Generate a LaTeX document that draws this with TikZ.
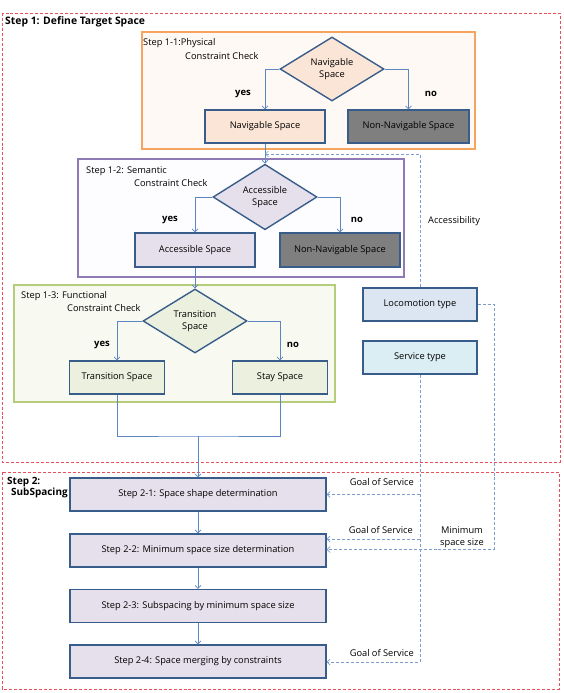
\documentclass[tikz,border=0pt]{standalone}
\usepackage{fontspec}
\setmainfont{Open Sans}
\usetikzlibrary{shapes.geometric,arrows.meta}
\definecolor{dkblue}{HTML}{385D8A}
\definecolor{lnblue}{HTML}{5B86C0}
\definecolor{dsblue}{HTML}{7C9CCB}
\definecolor{orgB}{HTML}{F5A55F}
\definecolor{orgFill}{HTML}{FEF9F4}
\definecolor{peach}{HTML}{FBE5D6}
\definecolor{nongray}{HTML}{7F7F7F}
\definecolor{purB}{HTML}{8E7AB5}
\definecolor{purFill}{HTML}{FDFCFE}
\definecolor{lav}{HTML}{E6E0EC}
\definecolor{grnB}{HTML}{B5CC7A}
\definecolor{grnFill}{HTML}{F8FAF2}
\definecolor{grnBox}{HTML}{EBF1DE}
\definecolor{loco}{HTML}{DCE6F2}
\definecolor{serv}{HTML}{DBEEF4}
\definecolor{redd}{HTML}{E8505B}
\tikzset{
  x=1bp, y=-1bp,
  every node/.style={font=\fontsize{9.3}{12}\selectfont, inner sep=0pt},
  reddash/.style={draw=redd, line width=0.8pt, dash pattern=on 3pt off 2pt},
  grp/.style={line width=1.2pt},
  pbox/.style={draw=dkblue, line width=1.4pt, rectangle, align=center},
  dia/.style={draw=dkblue, line width=1.4pt, diamond, align=center, minimum width=104bp, minimum height=64bp},
  ln/.style={draw=lnblue, line width=0.7pt},
  arr/.style={ln, -{Straight Barb[length=3pt,width=6pt]}},
  darr/.style={draw=dsblue, line width=0.7pt, dash pattern=on 3pt off 2pt, -{Straight Barb[length=3pt,width=6pt]}},
  bld/.style={font=\fontsize{9.5}{12.5}\selectfont\bfseries},
  ttl/.style={font=\fontsize{10.4}{12.5}\selectfont\bfseries},
}
\begin{document}
\begin{tikzpicture}
\useasboundingbox (0,0) rectangle (564,693);
% outer dashed regions
\draw[reddash] (2,13) rectangle (560,462);
\draw[reddash] (2,472) rectangle (559,689);
% group boxes
\draw[grp, draw=orgB, fill=orgFill] (142,32) rectangle (475,149);
\draw[grp, draw=purB, fill=purFill] (78,159) rectangle (404,277);
\draw[grp, draw=grnB, fill=grnFill] (14,285) rectangle (335,402);
% titles
\node[ttl, anchor=west] (t1) at (5,22) {Step 1: Define Target Space};
\node[ttl, font=\fontsize{10}{12.5}\selectfont\bfseries, anchor=north west, align=left] (t2) at (7,477) {Step 2:\\[-1pt]\hspace*{4bp}SubSpacing};
\node[anchor=west] (t11a) at (143,43) {Step 1-1:Physical};
\node[anchor=west] (t11b) at (185,56) {Constraint Check};
\node[anchor=west] (t12a) at (86,171) {Step 1-2: Semantic};
\node[anchor=west] (t12b) at (134,183) {Constraint Check};
\node[anchor=west] (t13a) at (21,296) {Step 1-3: Functional};
\node[anchor=west] (t13b) at (67,308) {Constraint Check};
% step 1-1
\node[dia, fill=peach] (nd) at (332,69) {Navigable\\Space};
\node[pbox, fill=peach, minimum width=120bp, minimum height=33bp] (nb) at (265,126.5) {Navigable Space};
\node[pbox, fill=nongray, minimum width=121bp, minimum height=33bp] (nnb) at (408.5,126.5) {Non-Navigable Space};
\node[bld] (y1) at (243,94) {yes};
\node[bld] (n1) at (431,94) {no};
% step 1-2
\node[dia, fill=lav] (ad) at (265,197) {Accessible\\Space};
\node[pbox, fill=lav, minimum width=120bp, minimum height=34bp] (ab) at (195,250) {Accessible Space};
\node[pbox, fill=nongray, minimum width=120bp, minimum height=34bp] (nnb2) at (340,250) {Non-Navigable Space};
\node[bld] (y2) at (170,220) {yes};
\node[bld] (n2) at (357,220) {no};
% step 1-3
\node[dia, fill=grnBox] (td) at (195,321) {Transition\\Space};
\node[pbox, fill=grnBox, minimum width=95bp, minimum height=33bp] (tb) at (117,377.5) {Transition Space};
\node[pbox, fill=grnBox, minimum width=95bp, minimum height=33bp] (sb) at (280,377.5) {Stay Space};
\node[bld] (y3) at (102,345) {yes};
\node[bld] (n3) at (293,345) {no};
% side boxes
\node[pbox, fill=loco, minimum width=114bp, minimum height=33bp] (loco) at (420,304.5) {Locomotion type};
\node[pbox, fill=serv, minimum width=114bp, minimum height=33bp] (serv) at (420,357.5) {Service type};
% step 2
\node[pbox, fill=lav, minimum width=256bp, minimum height=33bp] (s21) at (198,494.5) {Step 2-1: Space shape determination};
\node[pbox, fill=lav, minimum width=256bp, minimum height=33bp] (s22) at (198,550.5) {Step 2-2: Minimum space size determination};
\node[pbox, fill=lav, minimum width=256bp, minimum height=33bp] (s23) at (198,606) {Step 2-3: Subspacing by minimum space size};
\node[pbox, fill=lav, minimum width=256bp, minimum height=33bp] (s24) at (198,661.5) {Step 2-4: Space merging by constraints};
% labels on dashed lines
\node[anchor=west] (acc) at (428,221) {Accessibility};
\node[align=center] (msz) at (462,537) {Minimum\\space size};
\node[anchor=east] (g1l) at (414,482) {Goal of Service};
\node[anchor=east] (g2l) at (413,530) {Goal of Service};
\node[anchor=east] (g3l) at (414,653) {Goal of Service};
% solid connectors
\draw[arr] (nd.west) -| (nb.north);
\draw[arr] (nd.east) -| (nnb.north);
\draw[arr] (nb.south) -- (ad.north);
\draw[arr] (ad.west) -| (ab.north);
\draw[arr] (ad.east) -| (nnb2.north);
\draw[arr] (ab.south) -- (td.north);
\draw[arr] (td.west) -| (tb.north);
\draw[arr] (td.east) -| (sb.north);
\coordinate (mj) at (198,436);
\draw[ln] (tb.south) |- (mj) -| (sb.south);
\draw[arr] (mj) -- (s21.north);
\draw[arr] (s21.south) -- (s22.north);
\draw[arr] (s22.south) -- (s23.north);
\draw[arr] (s23.south) -- (s24.north);
% dashed connectors
\coordinate (ac) at (420,154);
\draw[darr] (loco.north) -- (ac) -- (nb.south |- ac);
\coordinate (ms) at (494,549.5);
\draw[darr] (loco.east) -| (ms) -- (s22.east |- ms);
\coordinate (g1) at (420,494.5);
\coordinate (g2) at (420,539);
\coordinate (g3) at (420,662);
\draw[darr] (serv.south) -- (g3) -- (s24.east |- g3);
\draw[darr] (g1) -- (s21.east |- g1);
\draw[darr] (g2) -- (s22.east |- g2);
\end{tikzpicture}
\end{document}
